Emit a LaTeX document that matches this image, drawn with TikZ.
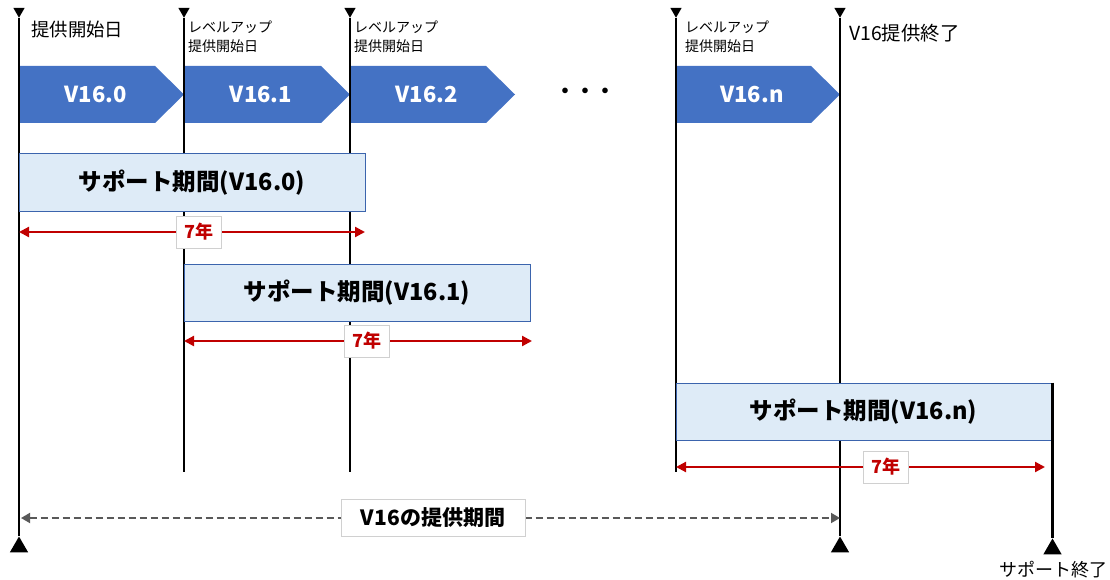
\documentclass[tikz,border=0pt]{standalone}
\usepackage{fontspec}
\setmainfont{Noto Sans CJK JP}
\usetikzlibrary{arrows.meta,shapes.geometric}
\definecolor{verblue}{HTML}{4472C4}
\definecolor{supfill}{HTML}{DEEBF7}
\definecolor{supline}{HTML}{3B64AD}
\definecolor{yrred}{HTML}{C00000}
\definecolor{spangray}{HTML}{595959}
\definecolor{tagline}{HTML}{D0D0D0}
\newcommand{\fsz}[1]{\fontsize{#1}{#1}\selectfont}
% chevron of one version: left x, right x, node name, text
\newcommand{\verchev}[4]{%
  \fill[verblue] (#1,66) -- (#2-29,66) -- (#2,94.5) -- (#2-29,123) -- (#1,123) -- cycle;
  \node[vertext] (#3) at ({(#1+#2)/2-6},94.5) {#4};}

\tikzset{
  timeline/.style={line width=2.7pt},
  topmark/.style={regular polygon,regular polygon sides=3,shape border rotate=180,
    fill=black,inner sep=0pt,minimum size=13pt},
  botmark/.style={regular polygon,regular polygon sides=3,
    fill=black,inner sep=0pt,minimum size=21pt},
  vertext/.style={text=white,font=\fsz{22}\bfseries,inner sep=0pt},
  support/.style={draw=supline,line width=1pt,fill=supfill,font=\fsz{23.5}\bfseries,
    minimum height=57pt,inner sep=0pt},
  yrarrow/.style={yrred,line width=2.2pt,
    {Triangle[length=10pt,width=10pt]}-{Triangle[length=10pt,width=10pt]}},
  yrtag/.style={draw=tagline,line width=0.8pt,fill=white,text=yrred,font=\fsz{18}\bfseries,
    minimum width=45pt,minimum height=32pt,inner sep=0pt},
  spanarrow/.style={spangray,line width=1.8pt,dash pattern=on 7pt off 4pt,
    {Triangle[length=9pt,width=10pt]}-{Triangle[length=9pt,width=10pt]}},
  spantag/.style={solid,draw=tagline,line width=0.8pt,fill=white,text=black,font=\fsz{21}\bfseries,
    minimum width=184pt,minimum height=37pt,inner sep=0pt},
}

\begin{document}
\begin{tikzpicture}[x=1pt,y=-1pt]
  \useasboundingbox (0,0) rectangle (1110,580);

  % versions
  \verchev{19}{184}{v0}{V16.0}
  \verchev{184}{350}{v1}{V16.1}
  \verchev{350}{515}{v2}{V16.2}
  \verchev{676}{840}{vn}{V16.n}
  \node[font=\fsz{20}\bfseries] (dots) at (585,93) {・・・};

  % markers at the top and the bottom of the time lines
  \node[topmark] (tA) at (19,11.2) {};
  \node[topmark] (tB) at (184,11.2) {};
  \node[topmark] (tC) at (350,11.2) {};
  \node[topmark] (tD) at (676,11.2) {};
  \node[topmark] (tE) at (840,11.2) {};
  \node[botmark] (bA) at (19,547) {};
  \node[botmark] (bE) at (840,547) {};
  \node[botmark] (bF) at (1052.5,549) {};
  \coordinate (bB) at (184,472);
  \coordinate (bC) at (350,472);
  \coordinate (bD) at (676,472);
  \coordinate (tF) at (1052.5,382.5);

  % time lines
  \draw[timeline] (tA) -- (bA);
  \draw[timeline] (tB) -- (bB);
  \draw[timeline] (tC) -- (bC);
  \draw[timeline] (tD) -- (bD);
  \draw[timeline] (tE) -- (bE);

  % support boxes
  \node[support,minimum width=346pt] (sup0) at (192,182.5) {サポート期間(V16.0)};
  \node[support,minimum width=346pt] (sup1) at (357,292.5) {サポート期間(V16.1)};
  \node[support,minimum width=375pt] (supn) at (863.5,412) {サポート期間(V16.n)};
  \draw[timeline] (tF) -- (bF);

  % labels
  \node[anchor=west,inner sep=0pt,font=\fsz{18.4}] (start) at (31,30) {提供開始日};
  \node[anchor=north west,align=left,inner sep=0pt,font=\fontsize{14}{19}\selectfont]
    (up1) at (188,21) {レベルアップ\\提供開始日};
  \node[anchor=north west,align=left,inner sep=0pt,font=\fontsize{14}{19}\selectfont]
    (up2) at (354,21) {レベルアップ\\提供開始日};
  \node[anchor=north west,align=left,inner sep=0pt,font=\fontsize{14}{19}\selectfont]
    (upn) at (685,21) {レベルアップ\\提供開始日};
  \node[anchor=west,inner sep=0pt,font=\fsz{19.4}] (fin) at (849,33) {V16提供終了};
  \node[inner sep=0pt,font=\fsz{18}] (supend) at (1053,570) {サポート終了};

  % seven years
  \coordinate (y0a) at (19,232);
  \coordinate (y0b) at (365,232);
  \coordinate (y1a) at (184,341);
  \coordinate (y1b) at (532,341);
  \coordinate (yna) at (676,467);
  \coordinate (ynb) at (1045,467);
  \draw[yrarrow] (y0a) -- node[yrtag,pos=0.52] (t0) {7年} (y0b);
  \draw[yrarrow] (y1a) -- node[yrtag,pos=0.525] (t1) {7年} (y1b);
  \draw[yrarrow] (yna) -- node[yrtag,pos=0.57] (tn) {7年} (ynb);

  % period of V16
  \coordinate (sa) at (21,518);
  \coordinate (sb) at (840,518);
  \draw[spanarrow] (sa) -- node[spantag,pos=0.503] (span) {V16の提供期間} (sb);
\end{tikzpicture}
\end{document}
